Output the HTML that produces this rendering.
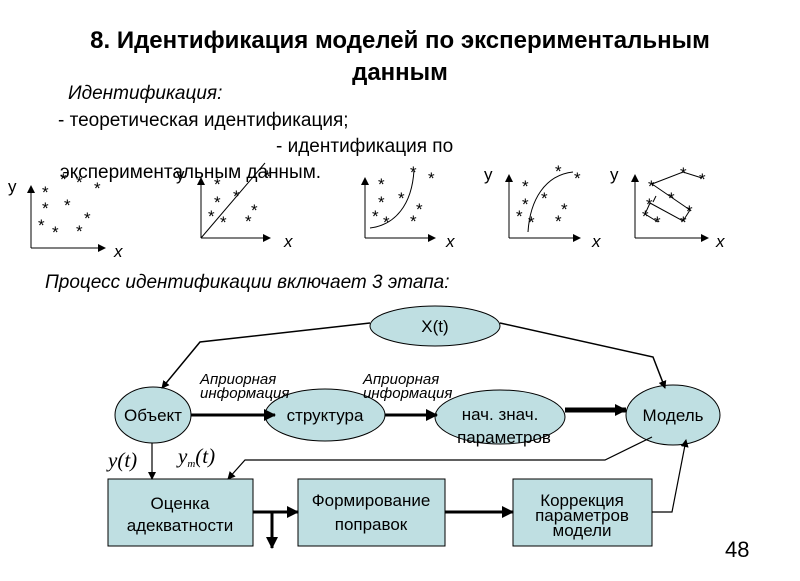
<!DOCTYPE html>
<html><head><meta charset="utf-8"><style>
body{margin:0;background:#fff;}
svg{display:block;font-family:"Liberation Sans",sans-serif;}
</style></head><body>
<svg width="800" height="581" viewBox="0 0 800 581">
<defs>
<marker id="a" markerWidth="8" markerHeight="8" refX="7" refY="4" orient="auto" markerUnits="userSpaceOnUse"><path d="M0,0L8,4L0,8z" fill="#000"/></marker>
<marker id="b" markerWidth="12" markerHeight="12" refX="11" refY="6" orient="auto" markerUnits="userSpaceOnUse"><path d="M0,0L12,6L0,12z" fill="#000"/></marker>
</defs>
<text x="400" y="48" text-anchor="middle" font-size="24" font-weight="bold">8. Идентификация моделей по экспериментальным</text>
<text x="400" y="80" text-anchor="middle" font-size="24" font-weight="bold">данным</text>
<text x="68" y="99" font-size="19" font-style="italic">Идентификация:</text>
<text x="58" y="126" font-size="19">- теоретическая идентификация;</text>
<text x="276" y="152" font-size="19">- идентификация по</text>
<text x="60" y="178" font-size="19">экспериментальным данным.</text>
<g font-size="15" stroke="#000" fill="none" stroke-width="1">
<path d="M31,248H105" marker-end="url(#a)"/>
<path d="M31,248V186" marker-end="url(#a)"/>
<path d="M201,238H270" marker-end="url(#a)"/>
<path d="M201,238V178" marker-end="url(#a)"/>
<path d="M201,238L265,163"/>
<path d="M365,238H435" marker-end="url(#a)"/>
<path d="M365,238V178" marker-end="url(#a)"/>
<path d="M370,228C395,225 412,205 414,170"/>
<path d="M509,238H580" marker-end="url(#a)"/>
<path d="M509,238V175" marker-end="url(#a)"/>
<path d="M528,232C530,200 545,175 573,172"/>
<path d="M635,238H708" marker-end="url(#a)"/>
<path d="M635,238V175" marker-end="url(#a)"/>
<path d="M652,184L683,172L702,178M652,184L690,210L683,221L650,203L645,214L658,222M653,202L656,196"/>
</g>
<g font-size="17" fill="#000">
<text x="42" y="198">*</text><text x="60" y="185">*</text><text x="76" y="188">*</text><text x="94" y="194">*</text><text x="42" y="214">*</text><text x="64" y="211">*</text><text x="84" y="224">*</text><text x="38" y="231">*</text><text x="52" y="238">*</text><text x="76" y="237">*</text>
<text x="214" y="190">*</text><text x="214" y="208">*</text><text x="233" y="202">*</text><text x="208" y="222">*</text><text x="220" y="228">*</text><text x="251" y="216">*</text><text x="245" y="227">*</text><text x="264" y="182">*</text>
<text x="378" y="190">*</text><text x="378" y="208">*</text><text x="372" y="222">*</text><text x="383" y="228">*</text><text x="410" y="178">*</text><text x="428" y="184">*</text><text x="416" y="215">*</text><text x="410" y="227">*</text><text x="398" y="204">*</text>
<text x="522" y="192">*</text><text x="522" y="210">*</text><text x="516" y="222">*</text><text x="528" y="228">*</text><text x="541" y="204">*</text><text x="555" y="177">*</text><text x="574" y="184">*</text><text x="561" y="215">*</text><text x="555" y="227">*</text>
<text x="648" y="192">*</text><text x="680" y="179">*</text><text x="699" y="185">*</text><text x="668" y="204">*</text><text x="646" y="210">*</text><text x="642" y="222">*</text><text x="654" y="228">*</text><text x="686" y="217">*</text><text x="680" y="228">*</text>
</g>
<g font-size="17">
<text x="8" y="192">y</text><text x="114" y="257" font-style="italic">x</text>
<text x="176" y="180">y</text><text x="284" y="247" font-style="italic">x</text>
<text x="446" y="247" font-style="italic">x</text>
<text x="484" y="180">y</text><text x="592" y="247" font-style="italic">x</text>
<text x="610" y="180">y</text><text x="716" y="247" font-style="italic">x</text>
</g>
<text x="45" y="288" font-size="19" font-style="italic">Процесс идентификации включает 3 этапа:</text>
<g fill="#bfdfe2" stroke="#000" stroke-width="1">
<ellipse cx="435" cy="326" rx="65" ry="20"/>
<ellipse cx="153" cy="415" rx="38" ry="28"/>
<ellipse cx="325" cy="415" rx="60" ry="26"/>
<ellipse cx="500" cy="417" rx="65" ry="27"/>
<ellipse cx="673" cy="415" rx="47" ry="30"/>
<rect x="108" y="479" width="145" height="67"/>
<rect x="298" y="479" width="147" height="67"/>
<rect x="513" y="479" width="139" height="67"/>
</g>
<g fill="none" stroke="#000">
<path d="M370,323L200,342L162,388" stroke-width="1.5" marker-end="url(#a)"/>
<path d="M500,323L653,357L665,388" stroke-width="1.5" marker-end="url(#a)"/>
<path d="M191,415H275" stroke-width="3" marker-end="url(#b)"/>
<path d="M385,415H437" stroke-width="3" marker-end="url(#b)"/>
<path d="M565,410H626" stroke-width="5" marker-end="url(#b)"/>
<path d="M152,443V479" stroke-width="1.2" marker-end="url(#a)"/>
<path d="M652,437L605,460H245L228,479" stroke-width="1.2" marker-end="url(#a)"/>
<path d="M253,512H298" stroke-width="3" marker-end="url(#b)"/>
<path d="M272,512V548" stroke-width="3" marker-end="url(#b)"/>
<path d="M445,512H513" stroke-width="3" marker-end="url(#b)"/>
<path d="M652,512H672L686,440" stroke-width="1.2" marker-end="url(#a)"/>
</g>
<g font-size="17" text-anchor="middle">
<text x="435" y="332">X(t)</text>
<text x="153" y="421">Объект</text>
<text x="325" y="421">структура</text>
<text x="500" y="420">нач. знач.</text>
<text x="504" y="443">параметров</text>
<text x="673" y="421">Модель</text>
<text x="180" y="509">Оценка</text><text x="180" y="531">адекватности</text>
<text x="371" y="506">Формирование</text><text x="371" y="530">поправок</text>
<text x="582" y="506">Коррекция</text><text x="582" y="521">параметров</text><text x="582" y="536">модели</text>
</g>
<g font-size="15" font-style="italic">
<text x="200" y="384">Априорная</text><text x="200" y="398">информация</text>
<text x="363" y="384">Априорная</text><text x="363" y="398">информация</text>
</g>
<g font-family="Liberation Serif" font-size="21" font-style="italic">
<text x="108" y="467">y(t)</text>
<text x="178" y="463">y<tspan font-size="11" dy="4">m</tspan><tspan dy="-4">(t)</tspan></text>
</g>
<text x="725" y="557" font-size="22">48</text>
</svg>
</body></html>
